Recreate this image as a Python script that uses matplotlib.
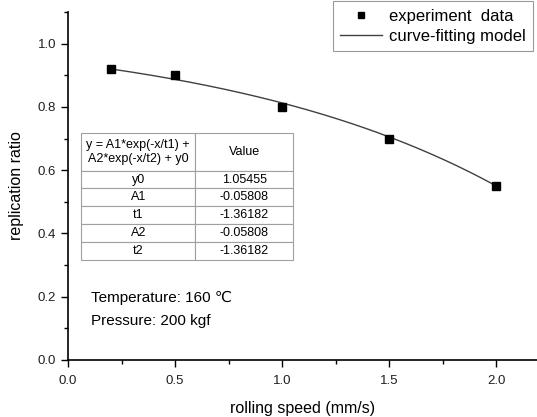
import numpy as np
import matplotlib.pyplot as plt
from matplotlib.ticker import MultipleLocator

plt.rcParams['font.family'] = ['Liberation Sans', 'DejaVu Sans']

# experiment data
speed = [0.2, 0.5, 1.0, 1.5, 2.0]
ratio = [0.92, 0.90, 0.80, 0.70, 0.55]

# fit parameters (from the table)
param_names = ['y0', 'A1', 't1', 'A2', 't2']
param_values = [1.05455, -0.05808, -1.36182, -0.05808, -1.36182]
y0, A1, t1, A2, t2 = param_values

x_fit = np.linspace(speed[0], speed[-1], 200)
y_fit = A1 * np.exp(-x_fit / t1) + A2 * np.exp(-x_fit / t2) + y0

fig = plt.figure(figsize=(5.37, 4.17), dpi=100)
ax = fig.add_axes([68 / 537, 57 / 417, 469 / 537, 348 / 417])

ax.plot(x_fit, y_fit, color='#404040', lw=1.0, label='curve-fitting model')
ax.plot(speed, ratio, 's', color='black', ms=6, label='experiment  data')

ax.set_xlim(0, 2.19)
ax.set_ylim(0, 1.1)
ax.xaxis.set_major_locator(MultipleLocator(0.5))
ax.xaxis.set_minor_locator(MultipleLocator(0.25))
ax.yaxis.set_major_locator(MultipleLocator(0.2))
ax.yaxis.set_minor_locator(MultipleLocator(0.1))
ax.xaxis.set_major_formatter(lambda v, p: f'{v:.1f}')
ax.yaxis.set_major_formatter(lambda v, p: f'{v:.1f}')
ax.tick_params(which='major', direction='out', length=5, width=1, labelsize=9.5,
               labelcolor='#202020')
ax.tick_params(which='minor', direction='out', length=3, width=1)
ax.tick_params(axis='x', pad=6)
for s in ['top', 'right']:
    ax.spines[s].set_visible(False)
for s in ['left', 'bottom']:
    ax.spines[s].set_linewidth(1.2)

ax.set_xlabel('rolling speed (mm/s)', fontsize=11.5, labelpad=10)
ax.set_ylabel('replication ratio', fontsize=11.5, labelpad=10)

h, l = ax.get_legend_handles_labels()
leg = ax.legend(h[::-1], l[::-1], loc='upper right', bbox_to_anchor=(0.9915, 1.031),
                borderaxespad=0, fontsize=12, frameon=True, fancybox=False,
                edgecolor='#808080', handlelength=2.5, borderpad=0.45, labelspacing=0.3,
                handletextpad=0.4, markerscale=0.8)
leg.get_frame().set_linewidth(0.8)

# parameter table
cells = [[n, f'{v:.5f}'] for n, v in zip(param_names, param_values)]
tbl = ax.table(cellText=cells,
               colLabels=['y = A1*exp(-x/t1) +\nA2*exp(-x/t2) + y0', 'Value'],
               cellLoc='center', colLoc='center',
               bbox=[13 / 469, 100 / 348, 212 / 469, 127 / 348])
tbl.auto_set_font_size(False)
for (r, c), cell in tbl.get_celld().items():
    cell.set_edgecolor('#a0a0a0')
    cell.set_linewidth(0.8)
    cell.get_text().set_fontsize(9)
    cell.set_width(0.54 if c == 0 else 0.46)
    cell.set_height(2.1 if r == 0 else 1.0)

ax.text(0.048, 0.178, 'Temperature: 160 \u2103', transform=ax.transAxes,
        fontsize=11, va='center', ha='left')
ax.text(0.048, 0.112, 'Pressure: 200 kgf', transform=ax.transAxes,
        fontsize=11, va='center', ha='left')

fig.savefig('out.png', dpi=100)
